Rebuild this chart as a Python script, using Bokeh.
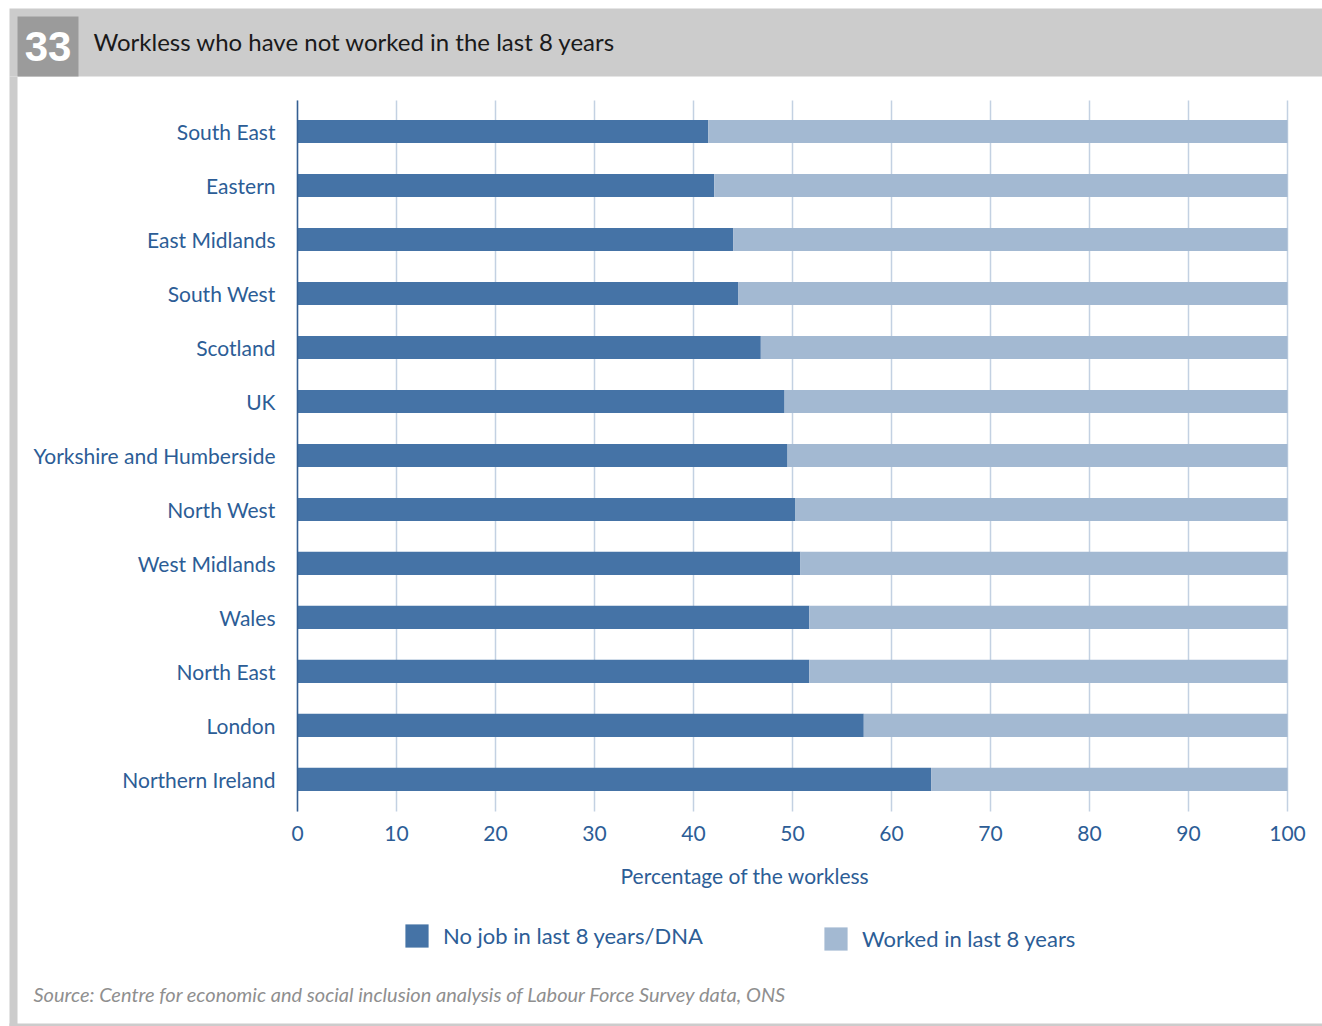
from bokeh.plotting import figure
from bokeh.models import (Range1d, FixedTicker, Label, BoxAnnotation, Legend, LegendItem, Grid)
from bokeh.embed import file_html
from bokeh.resources import INLINE

regions = ["South East", "Eastern", "East Midlands", "South West", "Scotland", "UK",
           "Yorkshire and Humberside", "North West", "West Midlands", "Wales",
           "North East", "London", "Northern Ireland"]
no_job = [41.5, 42.1, 44.0, 44.5, 46.8, 49.2, 49.5, 50.3, 50.8, 51.7, 51.7, 57.2, 64.0]
worked = [100 - v for v in no_job]
x_ticks = [0, 10, 20, 30, 40, 50, 60, 70, 80, 90, 100]

n = len(regions)
ypos = [n - 1 - i for i in range(n)]
totals = [a + b for a, b in zip(no_job, worked)]

DARK = "#4573a6"
LIGHT = "#a3b9d2"
TXT = "#2c5d96"
FONT = "Lato"

W, H = 1322, 1026
# plot area in pixels: x 0 -> 297, 100 -> 1287 ; bars area y 100..811
PX0, PX100 = 297, 1287
XS = (PX100 - PX0) / 100.0
Y_BOT, Y_TOP = -0.593, n - 1 + 0.574
PY_TOP, PY_BOT = 100, 811
YS = (PY_BOT - PY_TOP) / (Y_TOP - Y_BOT)

def dx(px):
    return (px - PX0) / XS

def dy(py):
    return Y_BOT + (PY_BOT - py) / YS

p = figure(width=W, height=H, output_backend="svg", toolbar_location=None,
           x_range=Range1d(dx(0), dx(W)), y_range=Range1d(dy(H), dy(0)),
           min_border=0, min_border_left=0, min_border_right=0,
           min_border_top=0, min_border_bottom=0)
p.outline_line_color = None
p.background_fill_color = "white"
p.border_fill_color = "white"

r1 = p.hbar(y=ypos, left=0, right=no_job, height=0.43, fill_color=DARK, line_color=None)
r2 = p.hbar(y=ypos, left=no_job, right=totals, height=0.43, fill_color=LIGHT, line_color=None)

# x axis
p.xaxis.fixed_location = Y_BOT
p.xaxis.ticker = FixedTicker(ticks=x_ticks)
p.xaxis.axis_line_color = None
p.xaxis.major_tick_line_color = None
p.xaxis.minor_tick_line_color = None
p.xaxis.major_tick_out = 0
p.xaxis.major_tick_in = 0
p.xaxis.major_label_standoff = 14
p.xaxis.major_label_text_font = FONT
p.xaxis.major_label_text_font_size = "21px"
p.xaxis.major_label_text_color = TXT

p.xgrid.ticker = FixedTicker(ticks=x_ticks)
p.xgrid.grid_line_color = "#c3d1e2"
p.xgrid.grid_line_width = 1.5
if "cross_bounds" in Grid.properties():
    p.xgrid.cross_bounds = (Y_BOT, Y_TOP)
else:
    p.xgrid.grid_line_color = None
    p.segment(x0=x_ticks, y0=Y_BOT, x1=x_ticks, y1=Y_TOP, line_color="#c3d1e2",
              line_width=1.5, level="underlay")
p.ygrid.grid_line_color = None

# y axis
p.yaxis.fixed_location = 0
p.yaxis.bounds = (Y_BOT, Y_TOP)
p.yaxis.ticker = FixedTicker(ticks=ypos)
p.yaxis.major_label_overrides = {y: name for y, name in zip(ypos, regions)}
p.yaxis.axis_line_color = "#355f92"
p.yaxis.axis_line_width = 1.5
p.yaxis.major_tick_line_color = None
p.yaxis.minor_tick_line_color = None
p.yaxis.major_tick_out = 0
p.yaxis.major_tick_in = 0
p.yaxis.major_label_standoff = 22
p.yaxis.major_label_text_font = FONT
p.yaxis.major_label_text_font_size = "21px"
p.yaxis.major_label_text_color = TXT

def box(l, r, t, b, color):
    p.add_layout(BoxAnnotation(left=dx(l), right=dx(r), top=dy(t), bottom=dy(b),
                               fill_color=color, fill_alpha=1, line_color=None, line_alpha=0,
                               level="underlay"))

box(9, W, 8, 76, "#cccccc")
box(17, 78, 16, 76, "#9b9b9b")
box(9, 17, 76, H, "#cccccc")
box(9, W, 1023, H, "#cccccc")

def label(text, px, py, **kw):
    p.add_layout(Label(text=text, x=dx(px), y=dy(py), **kw))

label("33", 47.5, 46, text_font="Liberation Sans", text_font_style="bold", text_font_size="42px",
      text_color="white", text_align="center", text_baseline="middle")
label("Workless who have not worked in the last 8 years", 93, 41, text_font=FONT,
      text_font_size="24px", text_color="#1a1a1a", text_baseline="alphabetic")
label("Percentage of the workless", 744.5, 875, text_font=FONT, text_font_size="21px",
      text_color=TXT, text_align="center", text_baseline="alphabetic")
label("Source: Centre for economic and social inclusion analysis of Labour Force Survey data, ONS",
      33, 993, text_font=FONT, text_font_style="italic", text_font_size="20px",
      text_color="#8f8f8f", text_baseline="alphabetic")

def make_legend(item, px, pybottom):
    lg = Legend(items=[item], location=(px, H - pybottom), orientation="horizontal",
                glyph_width=29, glyph_height=29, label_standoff=12, padding=0, margin=0,
                border_line_color=None, background_fill_alpha=0,
                label_text_font=FONT, label_text_font_size="22px", label_text_color=TXT)
    p.add_layout(lg, "center")

make_legend(LegendItem(label="No job in last 8 years/DNA", renderers=[r1]), 402, 950)
make_legend(LegendItem(label="Worked in last 8 years", renderers=[r2]), 821, 953)

open("out.html", "w").write(file_html(p, INLINE))
